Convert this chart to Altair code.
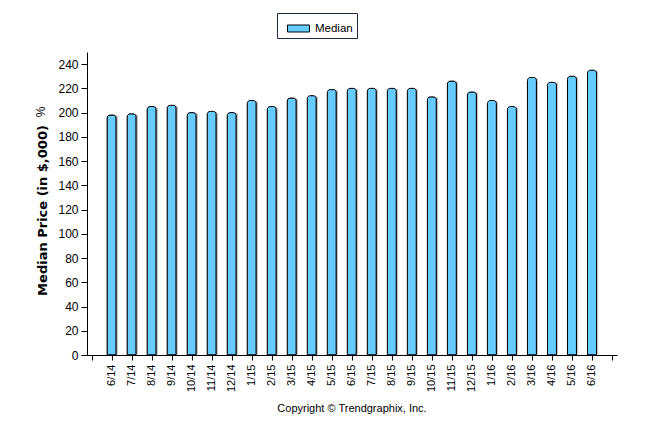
import altair as alt
import pandas as pd

months = ["6/14", "7/14", "8/14", "9/14", "10/14", "11/14", "12/14", "1/15", "2/15", "3/15",
          "4/15", "5/15", "6/15", "7/15", "8/15", "9/15", "10/15", "11/15", "12/15", "1/16",
          "2/16", "3/16", "4/16", "5/16", "6/16"]
median = [198, 199, 205, 206, 200, 201, 200, 210, 205, 212,
          214, 219, 220, 220, 220, 220, 213, 226, 217, 210,
          205, 229, 225, 230, 235]
series_name = "Median"
y_ticks = list(range(0, 241, 20))
y_title = "Median Price (in $,000)"
y_title_suffix = ["%"]
copyright_text = ["Copyright \u00a9 Trendgraphix, Inc."]

idx = list(range(len(months)))
df = pd.DataFrame({"idx": idx, "month": months, "median": median, "series": series_name})
FONT = "Liberation Sans"

x_lo, x_hi = -0.98, 25.0
month_arr = "[" + ",".join("'" + m + "'" for m in months) + "]"
label_expr = ("datum.value >= 0 && datum.value <= %d && datum.value == floor(datum.value) ? "
              "%s[datum.value] : ''" % (len(months) - 1, month_arr))

xenc = alt.X("idx:Q", scale=alt.Scale(domain=[x_lo, x_hi], nice=False, zero=False),
             axis=alt.Axis(title=None, values=[x_lo] + idx + [x_hi], labelExpr=label_expr,
                           labelAngle=270, labelAlign="right", labelBaseline="middle",
                           labelFontSize=11, labelFont=FONT, labelColor="black",
                           labelPadding=4, tickSize=5, tickColor="black",
                           domainColor="black", labelOverlap=False, grid=False,
                           labelFlush=False))
yenc = alt.Y("median:Q", scale=alt.Scale(domain=[0, 250], nice=False),
             axis=alt.Axis(title=y_title, values=y_ticks,
                           titleFont="DejaVu Sans", titleFontSize=13, titleFontWeight="bold",
                           titleColor="black", titlePadding=8, titleY=158,
                           labelFont=FONT, labelFontSize=12, labelColor="black",
                           labelPadding=3, tickSize=6, tickColor="black",
                           domainColor="black", grid=False))

shadow = alt.Chart(df).mark_bar(color="#9a9a9a", opacity=0.6, xOffset=2, yOffset=-1, size=9,
                                 cornerRadiusTopLeft=3, cornerRadiusTopRight=3).encode(
    x=xenc, y=yenc)

bars = alt.Chart(df).mark_bar(stroke="black", strokeWidth=1, size=9,
                               cornerRadiusTopLeft=3, cornerRadiusTopRight=3).encode(
    x=xenc, y=yenc,
    color=alt.Color("series:N",
                    scale=alt.Scale(domain=[series_name], range=["#66CCFF"]),
                    legend=alt.Legend(title=None, orient="none", legendX=190, legendY=-39,
                                      symbolType="M-1,-0.318L1,-0.318L1,0.318L-1,0.318Z",
                                      symbolSize=484, symbolStrokeColor="black",
                                      symbolStrokeWidth=1, symbolOpacity=1,
                                      symbolOffset=6,
                                      labelExpr="datum.label + '\u2003'",
                                      labelFont=FONT, labelFontSize=11.5, labelColor="black",
                                      labelOffset=5, padding=4,
                                      strokeColor="#1a2b4c", fillColor="white")))

suffix = alt.Chart(pd.DataFrame({"t": y_title_suffix})).mark_text(
    font=FONT, fontSize=12, color="black", angle=270, align="center", baseline="middle").encode(
    x=alt.value(-46), y=alt.value(60), text="t:N")

copyright = alt.Chart(pd.DataFrame({"t": copyright_text})).mark_text(
    font=FONT, fontSize=11, color="black", align="center", baseline="middle").encode(
    x=alt.value(265), y=alt.value(357), text="t:N")

chart = alt.layer(shadow, bars, suffix, copyright).properties(
    width=530, height=303,
    autosize=alt.AutoSizeParams(type="none"),
    padding={"left": 79, "top": 44, "right": 21, "bottom": 71},
).configure(background="white").configure_view(stroke=None)

chart.save("out.html", embed_options={"renderer": "svg", "actions": False})
